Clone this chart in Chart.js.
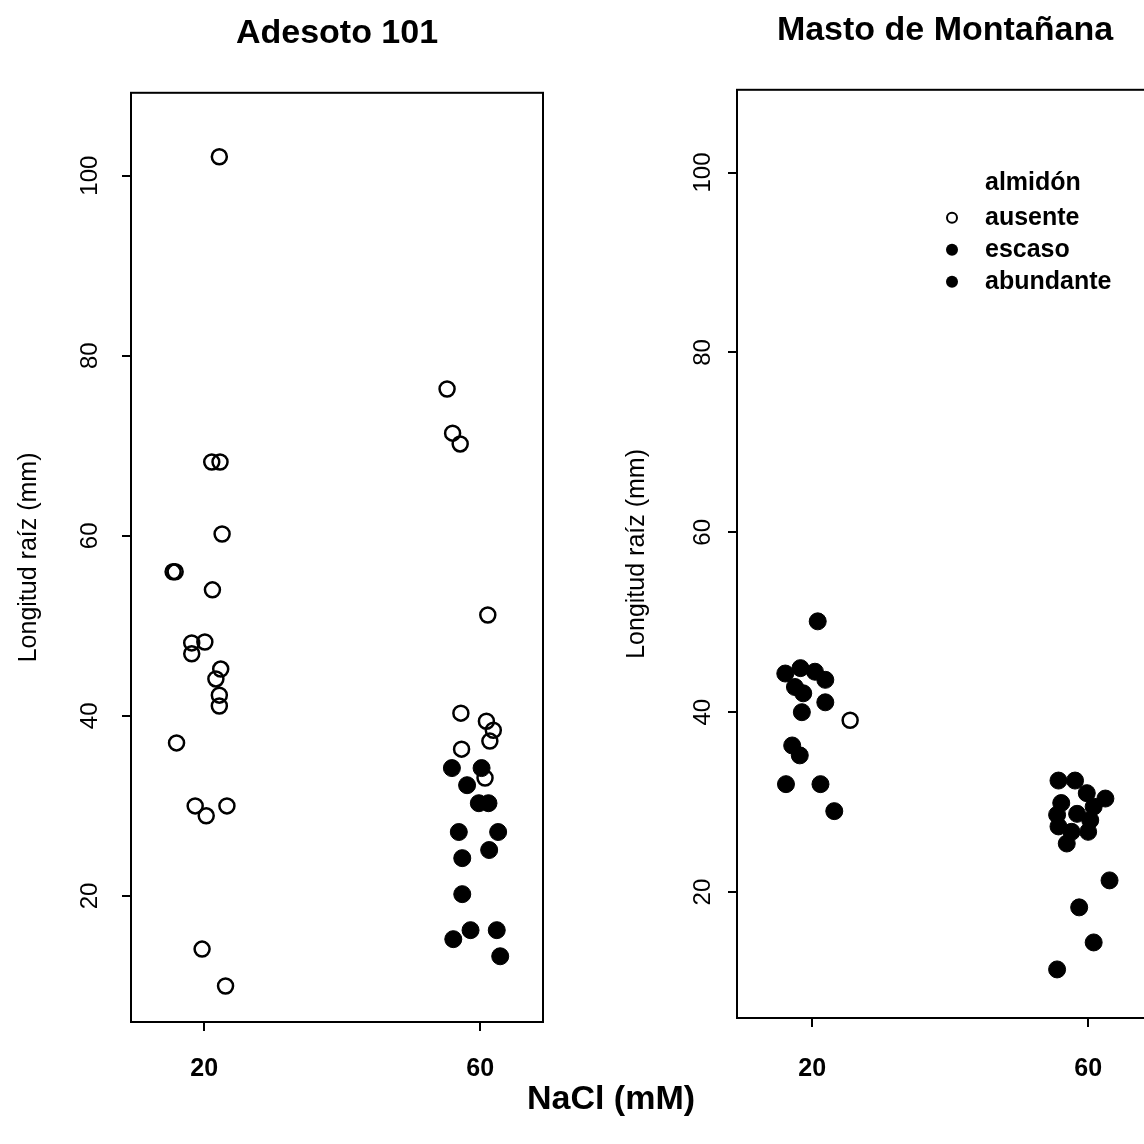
<!DOCTYPE html>
<html>
<head>
<meta charset="utf-8">
<script src="https://cdn.jsdelivr.net/npm/chart.js@4.4.0/dist/chart.umd.min.js"></script>
<style>
html, body { margin: 0; padding: 0; background: #fff; }
#page { position: relative; width: 1144px; height: 1144px; overflow: hidden; background: #fff; }
#left { position: absolute; left: 0; top: 0; }
#right { position: absolute; left: 600px; top: 0; }
#xlab { position: absolute; left: 411px; width: 400px; top: 1077px; text-align: center;
        font: bold 34px "Liberation Sans", Arial, sans-serif; line-height: 40px; color: #000; }
</style>
</head>
<body>
<div id="page">
  <canvas id="left" width="572" height="1144"></canvas>
  <canvas id="right" width="600" height="1144"></canvas>
  <div id="xlab">NaCl (mM)</div>
</div>
<script>
const FONT = '"Liberation Sans", Arial, sans-serif';

// tick labels
const naclTicks = [20, 60];
const lengthTicks = [20, 40, 60, 80, 100];
const starchLevels = ["ausente", "escaso", "abundante"];

// Adesoto 101 (jittered NaCl, root length mm)
const adesotoAusenteNaCl = [22.2, 21.1, 22.3, 22.6, 15.5, 15.8, 21.2, 18.2, 20.1, 18.2, 22.4, 21.7, 22.2, 22.2, 16.0, 18.7, 20.3, 23.3, 19.7, 23.1,
                            55.2, 56.0, 57.1, 61.1, 57.2, 60.9, 61.9, 61.4, 57.3, 60.7];
const adesotoAusenteLen  = [102.1, 68.2, 68.2, 60.2, 56.0, 56.0, 54.0, 48.1, 48.2, 46.9, 45.2, 44.1, 42.3, 41.1, 37.0, 30.0, 28.9, 30.0, 14.1, 10.0,
                            76.3, 71.4, 70.2, 51.2, 40.3, 39.4, 38.4, 37.2, 36.3, 33.1];
const adesotoEscasoNaCl = [55.9, 60.2, 58.1, 59.8, 61.2, 56.9, 62.6, 61.3];
const adesotoEscasoLen  = [34.2, 34.2, 32.3, 30.3, 30.3, 27.1, 27.1, 25.1];
const adesotoAbundanteNaCl = [57.4, 57.4, 58.6, 56.1, 62.4, 62.9];
const adesotoAbundanteLen  = [24.2, 20.2, 16.2, 15.2, 16.2, 13.3];

// Masto de Montañana
const mastoAusenteNaCl = [25.5];
const mastoAusenteLen  = [39.1];
const mastoEscasoNaCl = [20.8, 16.1, 18.3, 20.4, 21.9, 17.5, 18.7, 21.9, 18.5, 17.1, 18.2, 16.2, 21.2, 23.2];
const mastoEscasoLen  = [50.1, 44.3, 44.9, 44.5, 43.6, 42.8, 42.1, 41.1, 40.0, 36.3, 35.2, 32.0, 32.0, 29.0];
const mastoAbundanteNaCl = [55.7, 58.1, 59.8, 62.5, 56.1, 60.8, 55.5, 58.4, 60.3, 55.7, 57.6, 60.0, 56.9, 63.1, 58.7, 60.8, 55.5];
const mastoAbundanteLen  = [32.4, 32.4, 31.0, 30.4, 29.9, 29.5, 28.6, 28.7, 28.0, 27.3, 26.7, 26.7, 25.4, 21.3, 18.3, 14.4, 11.4];

function pts(xs, ys) {
  return xs.map((x, i) => ({ x: x, y: ys[i] }));
}

const openStyle = { pointRadius: 7.5, pointBorderWidth: 2.5, pointBackgroundColor: "rgba(0,0,0,0)", pointBorderColor: "#000" };
const fillStyle = { pointRadius: 8.5, pointBorderWidth: 1, pointBackgroundColor: "#000", pointBorderColor: "#000" };

function makeSets(aus, esc, abu) {
  return [
    Object.assign({ label: starchLevels[0], data: aus }, openStyle),
    Object.assign({ label: starchLevels[1], data: esc }, fillStyle),
    Object.assign({ label: starchLevels[2], data: abu }, fillStyle),
  ];
}

// box round the plot area
const frame = {
  id: "frame",
  afterDraw(chart) {
    const a = chart.chartArea, ctx = chart.ctx;
    ctx.save();
    ctx.strokeStyle = "#000";
    ctx.lineWidth = 2;
    ctx.strokeRect(a.left, a.top, a.right - a.left, a.bottom - a.top);
    ctx.restore();
  }
};

// R style y labels, turned to read upwards
const yLabels = {
  id: "yLabels",
  afterDraw(chart, args, opts) {
    const ctx = chart.ctx, y = chart.scales.y;
    ctx.save();
    ctx.font = "24px " + FONT;
    ctx.fillStyle = "#000";
    ctx.textAlign = "center";
    ctx.textBaseline = "middle";
    y.ticks.forEach(t => {
      ctx.save();
      ctx.translate(chart.chartArea.left - opts.gap, y.getPixelForValue(t.value));
      ctx.rotate(-Math.PI / 2);
      ctx.fillText(String(t.value), 0, 0);
      ctx.restore();
    });
    ctx.restore();
  }
};

// legend inside the plot (right panel only)
const boxLegend = {
  id: "boxLegend",
  afterDraw(chart, args, opts) {
    if (!opts.show) return;
    const ctx = chart.ctx, a = chart.chartArea;
    const sx = a.left + opts.symbolX, tx = a.left + opts.textX;
    ctx.save();
    ctx.font = "bold 25px " + FONT;
    ctx.fillStyle = "#000";
    ctx.textAlign = "left";
    ctx.textBaseline = "middle";
    ctx.fillText(opts.title, tx, a.top + opts.titleY);
    chart.data.datasets.forEach((ds, i) => {
      const yy = a.top + opts.firstY + i * opts.step;
      ctx.beginPath();
      if (ds.pointBackgroundColor === "#000") {
        ctx.arc(sx, yy, 6, 0, Math.PI * 2);
        ctx.fill();
      } else {
        ctx.lineWidth = 2;
        ctx.arc(sx, yy, 5, 0, Math.PI * 2);
        ctx.stroke();
      }
      ctx.fillText(ds.label, tx, yy);
    });
    ctx.restore();
  }
};

function makeChart(id, title, sets, cfg) {
  return new Chart(document.getElementById(id), {
    type: "scatter",
    data: { datasets: sets },
    plugins: [frame, yLabels, boxLegend],
    options: {
      responsive: false,
      animation: false,
      events: [],
      devicePixelRatio: 1,
      layout: { padding: { left: 0, right: cfg.padRight, top: 0, bottom: 0 } },
      plugins: {
        legend: { display: false },
        tooltip: { enabled: false },
        title: {
          display: true, text: title, color: "#000", fullSize: false,
          font: { family: FONT, size: 34, weight: "bold" },
          padding: { top: cfg.titleTop, bottom: cfg.titleBottom }
        },
        yLabels: { gap: cfg.yGap },
        boxLegend: cfg.legend || { show: false }
      },
      scales: {
        x: {
          type: "linear", min: cfg.xMin, max: cfg.xMax,
          afterBuildTicks: s => { s.ticks = naclTicks.map(v => ({ value: v })); },
          afterFit: s => { s.height = cfg.xHeight; },
          border: { display: false },
          grid: { drawOnChartArea: false, drawTicks: true, tickLength: 9, color: "#000", lineWidth: 2 },
          ticks: { color: "#000", padding: cfg.xPad, maxRotation: 0, font: { family: FONT, size: 25, weight: "bold" } }
        },
        y: {
          type: "linear", min: 6, max: 109.2,
          afterBuildTicks: s => { s.ticks = lengthTicks.map(v => ({ value: v })); },
          afterFit: s => { s.width = cfg.yWidth; },
          border: { display: false },
          grid: { drawOnChartArea: false, drawTicks: true, tickLength: 9, color: "#000", lineWidth: 2 },
          ticks: { display: false },
          title: {
            display: true, text: "Longitud raíz (mm)", color: "#000",
            font: { family: FONT, size: 25 }, padding: { top: cfg.yTitlePad, bottom: 0 }
          }
        }
      }
    }
  });
}

makeChart("left", "Adesoto 101",
  makeSets(pts(adesotoAusenteNaCl, adesotoAusenteLen), pts(adesotoEscasoNaCl, adesotoEscasoLen), pts(adesotoAbundanteNaCl, adesotoAbundanteLen)),
  { xMin: 9.4, xMax: 69.1, padRight: 29, yWidth: 131, xHeight: 122, xPad: 23,
    titleTop: 13, titleBottom: 39, yGap: 41, yTitlePad: 14 });

makeChart("right", "Masto de Montañana",
  makeSets(pts(mastoAusenteNaCl, mastoAusenteLen), pts(mastoEscasoNaCl, mastoEscasoLen), pts(mastoAbundanteNaCl, mastoAbundanteLen)),
  { xMin: 9.1, xMax: 69.4, padRight: 47, yWidth: 137, xHeight: 126, xPad: 27,
    titleTop: 10, titleBottom: 39, yGap: 34, yTitlePad: 22,
    legend: { show: true, title: "almidón", symbolX: 215, textX: 248, titleY: 93, firstY: 128, step: 32 } });
</script>
</body>
</html>
